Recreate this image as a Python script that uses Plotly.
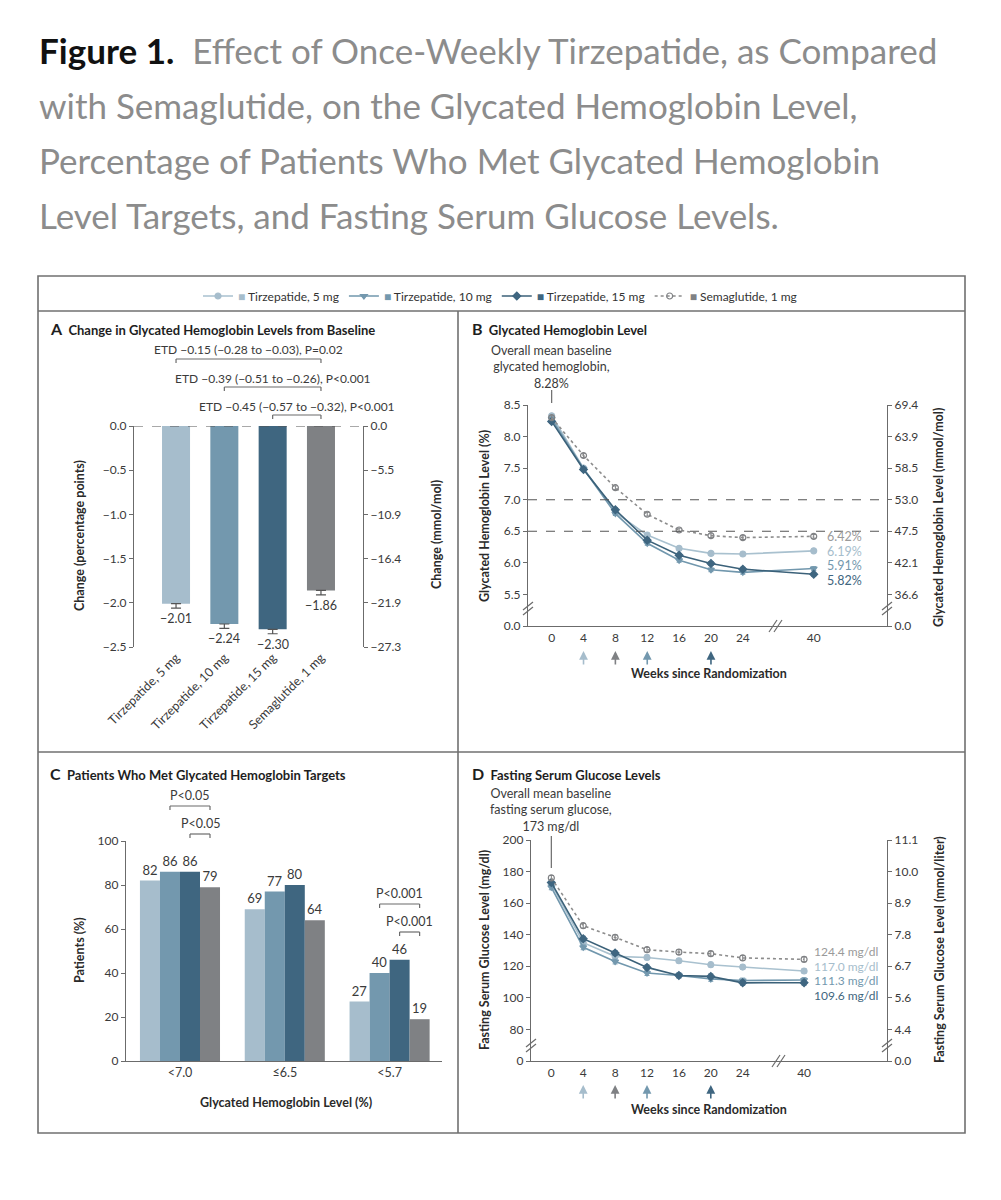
import plotly.graph_objects as go

FONT = "Lato, 'Open Sans', sans-serif"

# ---------------- data ----------------
treatments = ["Tirzepatide, 5 mg", "Tirzepatide, 10 mg", "Tirzepatide, 15 mg", "Semaglutide, 1 mg"]
colors = ["#a6bdcc", "#7398ae", "#3f6680", "#7f8184"]
line_colors = ["#a9c1cf", "#7197ad", "#3b6179", "#8c8c8c"]
symbols = ["circle", "triangle-down", "diamond", "circle-open"]

# Panel A: change in HbA1c from baseline (percentage points)
hba1c_change = [-2.01, -2.24, -2.30, -1.86]
hba1c_change_se = [0.05, 0.05, 0.05, 0.05]
a_tickvals = [0.0, -0.5, -1.0, -1.5, -2.0, -2.5]
a_left_ticktext = ["0.0", "−0.5", "−1.0", "−1.5", "−2.0", "−2.5"]
a_right_ticktext = ["0.0", "−5.5", "−10.9", "−16.4", "−21.9", "−27.3"]
etd_labels = ["ETD −0.15 (−0.28 to −0.03), P=0.02",
              "ETD −0.39 (−0.51 to −0.26), P<0.001",
              "ETD −0.45 (−0.57 to −0.32), P<0.001"]
etd_pairs = [(0, 3), (1, 3), (2, 3)]

# Panel B: HbA1c level over time (%)
weeks = [0, 4, 8, 12, 16, 20, 24, 40]
hba1c_t5 = [8.33, 7.50, 6.80, 6.44, 6.23, 6.15, 6.14, 6.19]
hba1c_t10 = [8.28, 7.49, 6.78, 6.31, 6.04, 5.89, 5.85, 5.91]
hba1c_t15 = [8.24, 7.48, 6.84, 6.36, 6.12, 5.99, 5.90, 5.82]
hba1c_sema = [8.30, 7.70, 7.19, 6.77, 6.52, 6.43, 6.40, 6.42]
hba1c_se = [0.03, 0.03, 0.03, 0.03, 0.03, 0.03, 0.03, 0.03]
b_tickvals = [5.0, 5.5, 6.0, 6.5, 7.0, 7.5, 8.0, 8.5]
b_left_ticktext = ["0.0", "5.5", "6.0", "6.5", "7.0", "7.5", "8.0", "8.5"]
b_right_ticktext = ["0.0", "36.6", "42.1", "47.5", "53.0", "58.5", "63.9", "69.4"]
b_target_lines = [7.0, 6.5]
b_end_labels = ["6.19%", "5.91%", "5.82%", "6.42%"]

# Panel C: patients meeting HbA1c targets (%)
targets = ["<7.0", "≤6.5", "<5.7"]
pct_t5 = [82, 69, 27]
pct_t10 = [86, 77, 40]
pct_t15 = [86, 80, 46]
pct_sema = [79, 64, 19]
c_brackets = [(0, 1, 3, "P<0.05"), (0, 2, 3, "P<0.05"), (2, 1, 3, "P<0.001"), (2, 2, 3, "P<0.001")]

# Panel D: fasting serum glucose (mg/dl)
fsg_t5 = [172, 135, 126.3, 125.6, 123.5, 121.0, 119.5, 117.0]
fsg_t10 = [170, 132, 123.0, 115.7, 114.2, 112.0, 111.0, 111.3]
fsg_t15 = [173, 137.5, 128.4, 119.3, 114.2, 113.6, 109.5, 109.6]
fsg_sema = [176, 145.7, 138.3, 130.5, 129.0, 128.0, 125.3, 124.4]
fsg_se = [1.5, 1.5, 1.5, 1.5, 1.5, 1.5, 1.5, 1.5]
d_tickvals = [60, 80, 100, 120, 140, 160, 180, 200]
d_left_ticktext = ["0", "80", "100", "120", "140", "160", "180", "200"]
d_right_ticktext = ["0.0", "4.4", "5.6", "6.7", "7.8", "8.9", "10.0", "11.1"]
d_end_labels = ["117.0 mg/dl", "111.3 mg/dl", "109.6 mg/dl", "124.4 mg/dl"]

# dose-escalation arrows (week, series index)
arrow_weeks = [4, 8, 12, 20]
arrow_series = [0, 3, 1, 2]

# ---------------- layout helpers ----------------
W, H = 985, 1184
OX, OY = 8, 8
def px(x): return (x - OX) / W
def py(y): return 1 - (y - OY) / H

B_POS40 = 32.9
D_POS40 = 31.7
def week_pos(ws, pos40):
    return [pos40 if w > 24 else w for w in ws]

AX = "#6b6b6b"
TXT = "#3a3a3a"
TICKF = dict(family=FONT, size=12, color=TXT)

def yax(**kw):
    d = dict(showline=True, linecolor=AX, linewidth=1.2, ticks="outside", ticklen=4,
             tickwidth=1.2, tickcolor=AX, tickfont=TICKF, showgrid=False, zeroline=False,
             fixedrange=True, automargin=False)
    d.update(kw)
    return d

def xax(**kw):
    d = dict(showline=True, linecolor=AX, linewidth=1.2, ticks="", tickfont=TICKF,
             showgrid=False, zeroline=False, fixedrange=True, automargin=False)
    d.update(kw)
    return d

annotations = []
shapes = []

def text(t, x, y, size=12, color=TXT, xanchor="center", yanchor="middle", angle=0,
         xref="paper", yref="paper", **kw):
    annotations.append(dict(text=t, x=x, y=y, xref=xref, yref=yref, showarrow=False,
                            font=dict(family=FONT, size=size, color=color),
                            xanchor=xanchor, yanchor=yanchor, textangle=angle, **kw))

def line(x0, y0, x1, y1, xref="paper", yref="paper", color=AX, width=1.2, dash="solid"):
    shapes.append(dict(type="line", x0=x0, y0=y0, x1=x1, y1=y1, xref=xref, yref=yref,
                       line=dict(color=color, width=width, dash=dash)))

fig = go.Figure()

# ---------------- Panel A ----------------
fig.add_trace(go.Bar(x=treatments, y=hba1c_change, width=0.58, marker_color=colors,
                     marker_line_width=0,
                     error_y=dict(type="data", symmetric=False, array=[0] * 4,
                                  arrayminus=hba1c_change_se, color="#555", thickness=1.2, width=5),
                     xaxis="x", yaxis="y", showlegend=False, hoverinfo="skip"))
fig.add_trace(go.Scatter(x=treatments, y=hba1c_change, mode="markers", marker=dict(opacity=0),
                         xaxis="x", yaxis="y2", showlegend=False, hoverinfo="skip"))
for i, v in enumerate(hba1c_change):
    text(f"−{abs(v):.2f}", treatments[i], v - hba1c_change_se[i], size=12.5,
         xref="x", yref="y", yanchor="top", yshift=-1)
line(0, 0, 1, 0, xref="x domain", yref="y", color="#555", width=1.1, dash="dash")
for k, ((a, b), lab) in enumerate(zip(etd_pairs, etd_labels)):
    yb = [359, 387, 415][k]
    line(a, py(yb), b, py(yb), xref="x")
    line(a, py(yb), a, py(yb + 4), xref="x")
    line(b, py(yb), b, py(yb + 4), xref="x")
    text(lab, (a + b) / 2, py(yb - 9), size=12, xref="x")

# ---------------- Panel B ----------------
b_series = [hba1c_t5, hba1c_t10, hba1c_t15, hba1c_sema]
for i in range(4):
    fig.add_trace(go.Scatter(
        x=week_pos(weeks, B_POS40), y=b_series[i], mode="lines+markers",
        line=dict(color=line_colors[i], width=1.6, dash="dot" if i == 3 else "solid"),
        marker=dict(symbol=symbols[i], size=6, color=colors[i], line=dict(width=1.2, color=colors[i])),
        error_y=dict(type="data", array=hba1c_se, color=colors[i], thickness=1, width=2.5),
        name=f"<span style='color:{colors[i]}'>■</span> {treatments[i]}",
        xaxis="x2", yaxis="y3", showlegend=True, hoverinfo="skip"))
fig.add_trace(go.Scatter(x=week_pos(weeks, B_POS40), y=hba1c_t5, mode="markers",
                         marker=dict(opacity=0), xaxis="x2", yaxis="y4",
                         showlegend=False, hoverinfo="skip"))
for v in b_target_lines:
    line(0, v, 1, v, xref="x2 domain", yref="y3", color="#555", width=1.1, dash="dash")
b_yshift = [-1, 3, -6.5, 0]
for i in range(4):
    text(b_end_labels[i], B_POS40, b_series[i][-1], size=12.5, color=colors[i] if i != 3 else "#9a9a9a",
         xanchor="left", xref="x2", yref="y3", xshift=11, yshift=b_yshift[i])
text("Overall mean baseline<br>glycated hemoglobin,<br>8.28%", 0, py(367), size=12.5,
     xref="x2")
line(0, py(390), 0, py(403), xref="x2")

# ---------------- Panel C ----------------
c_series = [pct_t5, pct_t10, pct_t15, pct_sema]
BARGAP = 0.236
for i in range(4):
    fig.add_trace(go.Bar(x=targets, y=c_series[i], marker_color=colors[i], marker_line_width=0,
                         text=[str(v) for v in c_series[i]], textposition="outside",
                         textfont=dict(family=FONT, size=13, color=TXT), cliponaxis=False,
                         constraintext="none", xaxis="x3", yaxis="y5", showlegend=False,
                         hoverinfo="skip"))
bw = (1 - BARGAP) / 4
for k, (cat, a, b, lab) in enumerate(c_brackets):
    yb = [806, 834, 904, 932][k]
    xa = cat + (a - 1.5) * bw
    xb = cat + (b - 1.5) * bw
    line(xa, py(yb), xb, py(yb), xref="x3")
    line(xa, py(yb), xa, py(yb + 4), xref="x3")
    line(xb, py(yb), xb, py(yb + 4), xref="x3")
    text(lab, (xa + xb) / 2, py(yb - 11), size=12.5, xref="x3")

# ---------------- Panel D ----------------
d_series = [fsg_t5, fsg_t10, fsg_t15, fsg_sema]
for i in range(4):
    fig.add_trace(go.Scatter(
        x=week_pos(weeks, D_POS40), y=d_series[i], mode="lines+markers",
        line=dict(color=line_colors[i], width=1.6, dash="dot" if i == 3 else "solid"),
        marker=dict(symbol=symbols[i], size=6, color=colors[i], line=dict(width=1.2, color=colors[i])),
        error_y=dict(type="data", array=fsg_se, color=colors[i], thickness=1, width=2.5),
        xaxis="x4", yaxis="y6", showlegend=False, hoverinfo="skip"))
fig.add_trace(go.Scatter(x=week_pos(weeks, D_POS40), y=fsg_t5, mode="markers",
                         marker=dict(opacity=0), xaxis="x4", yaxis="y7",
                         showlegend=False, hoverinfo="skip"))
d_yshift = [5, 0, -13, 7.5]
for i in range(4):
    text(d_end_labels[i], D_POS40, d_series[i][-1], size=12, color=colors[i] if i != 3 else "#9a9a9a",
         xanchor="left", xref="x4", yref="y6", xshift=8, yshift=d_yshift[i])
text("Overall mean baseline<br>fasting serum glucose,<br>173 mg/dl", 0, py(810), size=12.5,
     xref="x4")
line(0, py(836), 0, py(868), xref="x4")

# dose-escalation arrows
for w, s in zip(arrow_weeks, arrow_series):
    for xr, pos40, ytip in (("x2", B_POS40, 651), ("x4", D_POS40, 1085)):
        annotations.append(dict(x=week_pos([w], pos40)[0], y=py(ytip), xref=xr, yref="paper",
                                text="", showarrow=True, ax=0, ay=15, arrowhead=2,
                                arrowsize=1.1, arrowwidth=1.6, arrowcolor=colors[s]))

# ---------------- titles & axis labels ----------------
title_lines = ["<span style='color:#111111'><b>Figure 1.</b></span>  Effect of Once-Weekly Tirzepatide, as Compared",
               "with Semaglutide, on the Glycated Hemoglobin Level,",
               "Percentage of Patients Who Met Glycated Hemoglobin",
               "Level Targets, and Fasting Serum Glucose Levels."]
for k, t in enumerate(title_lines):
    text(t, px(37), py(50 + 55 * k), size=35, color="#8c8c8c", xanchor="left")

panel_titles = [("A", "Change in Glycated Hemoglobin Levels from Baseline", 48, 328),
                ("B", "Glycated Hemoglobin Level", 470, 328),
                ("C", "Patients Who Met Glycated Hemoglobin Targets", 48, 773),
                ("D", "Fasting Serum Glucose Levels", 470, 773)]
for L, t, x, y in panel_titles:
    text(f"<b><span style='font-size:16px'>{L}</span>  {t}</b>", px(x), py(y), size=13,
         color="#1e1e1e", xanchor="left")

axis_titles = [("Change (percentage points)", 79, 536, -90),
               ("Change (mmol/mol)", 436, 535, -90),
               ("Glycated Hemoglobin Level (%)", 484, 516, -90),
               ("Glycated Hemoglobin Level (mmol/mol)", 939, 518, -90),
               ("Patients (%)", 79, 950, -90),
               ("Fasting Serum Glucose Level (mg/dl)", 484, 950, -90),
               ("Fasting Serum Glucose Level (mmol/liter)", 939, 950, -90),
               ("Glycated Hemoglobin Level (%)", 286, 1102, 0),
               ("Weeks since Randomization", 709, 673, 0),
               ("Weeks since Randomization", 709, 1109, 0)]
for t, x, y, ang in axis_titles:
    text(f"<b>{t}</b>", px(x), py(y), size=12.5, color="#2a2a2a", angle=ang)

# ---------------- frame and axis breaks ----------------
FR = "#707070"
shapes.append(dict(type="rect", x0=px(38), x1=px(965), y0=py(1133), y1=py(276), xref="paper",
                   yref="paper", line=dict(color=FR, width=1.6)))
line(px(38), py(311), px(965), py(311), color=FR, width=1.6)
line(px(458), py(311), px(458), py(1133), color=FR, width=1.6)
line(px(38), py(752), px(965), py(752), color=FR, width=1.6)

def ybreak(x, y):
    for d in (0, 5):
        line(px(x - 5), py(y + 4 + d), px(x + 5), py(y - 4 + d), color=AX, width=1.2)

def xbreak(x, y):
    for d in (0, 5):
        line(px(x - 4 + d), py(y + 6), px(x + 4 + d), py(y - 6), color=AX, width=1.2)

ybreak(528, 606); ybreak(887, 606); xbreak(773, 626)
ybreak(531, 1043); ybreak(887, 1043); xbreak(776, 1061)

# ---------------- axes ----------------
fig.update_layout(
    width=W, height=H, margin=dict(l=0, r=0, t=0, b=0, pad=0, autoexpand=False),
    paper_bgcolor="white", plot_bgcolor="white",
    barmode="group", bargap=BARGAP, bargroupgap=0,
    font=dict(family=FONT, color=TXT),
    showlegend=True,
    legend=dict(orientation="h", x=px(500), xanchor="center", y=py(296), yanchor="middle",
                font=dict(family=FONT, size=12, color="#333"), itemwidth=30,
                bgcolor="rgba(0,0,0,0)", traceorder="normal"),
    xaxis=xax(domain=[px(134), px(363)], anchor="y", range=[-0.87, 3.87], showline=False,
              tickangle=-45, tickfont=dict(family=FONT, size=12.5, color=TXT)),
    yaxis=yax(domain=[py(647), py(426)], anchor="x", range=[-2.5, 0],
              tickvals=a_tickvals, ticktext=a_left_ticktext),
    yaxis2=yax(overlaying="y", side="right", anchor="x", range=[-2.5, 0],
               tickvals=a_tickvals, ticktext=a_right_ticktext),
    xaxis2=xax(domain=[px(528), px(887)], anchor="y3", range=[-2.97, 42.1],
               tickvals=week_pos(weeks, B_POS40), ticktext=[str(w) for w in weeks]),
    yaxis3=yax(domain=[py(626), py(405)], anchor="x2", range=[5.0, 8.5],
               tickvals=b_tickvals, ticktext=b_left_ticktext),
    yaxis4=yax(overlaying="y3", side="right", anchor="x2", range=[5.0, 8.5],
               tickvals=b_tickvals, ticktext=b_right_ticktext),
    xaxis3=xax(domain=[px(126), px(442)], anchor="y5", range=[-0.515, 2.5],
               tickfont=dict(family=FONT, size=12.5, color=TXT)),
    yaxis5=yax(domain=[py(1061), py(841)], anchor="x3", range=[0, 100],
               tickvals=[0, 20, 40, 60, 80, 100]),
    xaxis4=xax(domain=[px(531), px(887)], anchor="y6", range=[-2.55, 42.1],
               tickvals=week_pos(weeks, D_POS40), ticktext=[str(w) for w in weeks]),
    yaxis6=yax(domain=[py(1061), py(840)], anchor="x4", range=[60, 200],
               tickvals=d_tickvals, ticktext=d_left_ticktext),
    yaxis7=yax(overlaying="y6", side="right", anchor="x4", range=[60, 200],
               tickvals=d_tickvals, ticktext=d_right_ticktext),
    annotations=annotations,
    shapes=shapes,
)

fig.write_html("out.html")
